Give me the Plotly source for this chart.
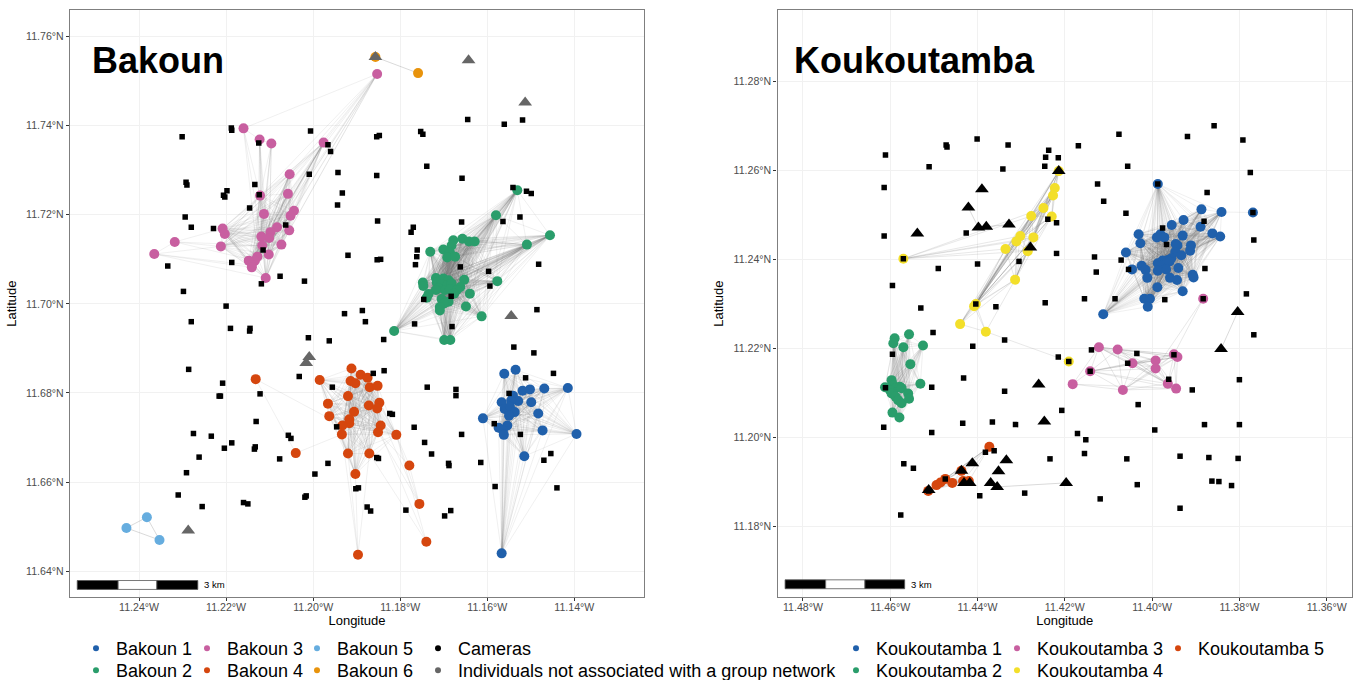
import plotly.graph_objects as go

W, H = 1357, 680
LEGEND_TOP_ROW = 630
LEGEND_BOTTOM_ROW = 652
PLOT_H = LEGEND_TOP_ROW  # height of the plotting region left above the reserved legend strip


def py(pixel):
    return (PLOT_H - pixel) / PLOT_H


# ---------- Tick labels ----------
B_XTICKS = [-11.24, -11.22, -11.20, -11.18, -11.16, -11.14]
B_XLABELS = ["11.24°W", "11.22°W", "11.20°W", "11.18°W", "11.16°W", "11.14°W"]
B_YTICKS = [11.64, 11.66, 11.68, 11.70, 11.72, 11.74, 11.76]
B_YLABELS = ["11.64°N", "11.66°N", "11.68°N", "11.70°N", "11.72°N", "11.74°N", "11.76°N"]
K_XTICKS = [-11.48, -11.46, -11.44, -11.42, -11.40, -11.38, -11.36]
K_XLABELS = ["11.48°W", "11.46°W", "11.44°W", "11.42°W", "11.40°W", "11.38°W", "11.36°W"]
K_YTICKS = [11.18, 11.20, 11.22, 11.24, 11.26, 11.28]
K_YLABELS = ["11.18°N", "11.20°N", "11.22°N", "11.24°N", "11.26°N", "11.28°N"]

# ---------- Bakoun cameras ----------
BC_LON = [-11.2301,-11.2188,-11.2187,-11.2006,-11.2125,-11.1966,-11.1960,-11.2009,-11.1943,-11.2292,-11.2290,-11.2134,
 -11.2198,-11.2206,-11.2203,-11.2124,-11.1933,-11.1944,-11.2146,-11.2294,-11.2280,-11.2229,-11.2063,-11.2115,-11.1920,
 -11.2334,-11.2187,-11.2076,-11.2020,-11.2119,-11.2298,
 -11.1645,-11.1561,-11.1519,-11.1848,-11.1854,-11.1753,-11.1748,-11.1739,-11.1854,-11.1658,-11.1541,-11.1510,-11.1499,
 -11.1525,-11.1564,-11.1659,-11.1852,-11.1770,-11.1775,-11.1761,-11.1762,-11.1765,-11.1845,-11.1853,-11.1482,-11.1662,
 -11.1597,-11.1594,-11.1683,-11.1746,
 -11.2200,-11.2280,-11.2190,-11.2145,-11.2146,-11.2011,-11.1963,-11.1928,-11.2286,-11.2208,-11.2032,-11.1956,-11.2213,
 -11.2216,-11.2122,-11.2131,-11.2275,-11.2234,-11.2187,-11.2204,-11.2133,-11.2135,-11.2262,-11.2057,-11.2051,-11.1946,
 -11.2077,-11.1966,-11.1996,-11.2291,-11.2310,-11.2255,-11.2160,-11.2150,-11.2016,-11.2019,-11.1902,-11.1896,
 -11.1887,-11.1880,-11.1767,-11.1681,-11.1838,-11.1486,-11.1539,-11.1493,-11.1862,-11.1837,-11.1738,-11.1672,-11.1672,
 -11.1512,-11.1448,-11.1550,-11.1824,-11.1818,-11.1768,-11.1659,-11.1584,-11.1524,-11.1744,-11.1728,-11.1689,-11.1688,
 -11.1615,-11.1854,-11.1850,-11.1454,-11.1470,-11.1582,-11.1440,-11.1876,-11.1868,-11.1787,-11.1698,-11.1684]
BC_LAT = [11.7375,11.7395,11.7390,11.7388,11.7361,11.7357,11.7342,11.7291,11.7295,11.7273,11.7267,11.7268,
 11.7254,11.7244,11.7240,11.7245,11.7249,11.7222,11.7215,11.7195,11.7172,11.7169,11.7177,11.7121,11.7109,
 11.7085,11.7093,11.7062,11.7051,11.7045,11.7028,
 11.7414,11.7403,11.7413,11.7378,11.7375,11.7387,11.7381,11.7309,11.7288,11.7282,11.7261,11.7253,11.7248,
 11.7195,11.7185,11.7184,11.7186,11.7172,11.7161,11.7121,11.7106,11.7088,11.7100,11.7099,11.7089,11.7083,
 11.7073,11.7040,11.7017,11.7010,
 11.6995,11.6960,11.6945,11.6945,11.6939,11.6924,11.6917,11.6978,11.6853,11.6822,11.6837,11.6813,11.6793,
 11.6793,11.6798,11.6736,11.6709,11.6703,11.6688,11.6676,11.6679,11.6674,11.6656,11.6705,11.6698,11.6724,
 11.6652,11.6642,11.6618,11.6621,11.6571,11.6545,11.6554,11.6551,11.6569,11.6566,11.6585,11.6587,
 11.6985,11.6960,11.6955,11.6949,11.6920,11.6987,11.6903,11.6890,11.6844,11.6850,11.6813,11.6808,11.6794,
 11.6834,11.6844,11.6799,11.6754,11.6752,11.6723,11.6707,11.6731,11.6707,11.6689,11.6663,11.6642,11.6637,
 11.6644,11.6655,11.6653,11.6664,11.6649,11.6590,11.6587,11.6544,11.6535,11.6537,11.6524,11.6536]

# ---------- Bakoun unassociated individuals ----------
BU_LON = [-11.1857,-11.1643,-11.1513,-11.1545,-11.2009,-11.2016,-11.2287]
BU_LAT = [11.7554,11.7547,11.7452,11.6973,11.6881,11.6867,11.6491]

# ---------- Bakoun groups ----------
B1_LON = [-11.1561,-11.1535,-11.1519,-11.1502,-11.1469,-11.1415,-11.1541,-11.1529,-11.1545,-11.1567,-11.1499,-11.1560,
 -11.1548,-11.1483,-11.1537,-11.1550,-11.1610,-11.1554,-11.1574,-11.1564,-11.1562,-11.1473,-11.1395,-11.1515,-11.1567]
B1_LAT = [11.6843,11.6852,11.6805,11.6808,11.6810,11.6811,11.6794,11.6782,11.6783,11.6779,11.6779,11.6764,
 11.6769,11.6754,11.6757,11.6749,11.6743,11.6727,11.6722,11.6717,11.6706,11.6716,11.6708,11.6658,11.6440]

B2_LON = [-11.1678,-11.1657,-11.1642,-11.1629,-11.1682,-11.1701,-11.1731,-11.1686,-11.1692,-11.1674,-11.1531,-11.1580,
 -11.1456,-11.1509,-11.1577,-11.1718,-11.1748,-11.1747,-11.1701,-11.1689,-11.1653,-11.1716,-11.1705,-11.1693,-11.1682,
 -11.1662,-11.1712,-11.1697,-11.1686,-11.1670,-11.1718,-11.1640,-11.1735,-11.1739,-11.1705,-11.1689,-11.1699,-11.1709,
 -11.1709,-11.1649,-11.1613,-11.1699,-11.1685,-11.1814,-11.1676]
B2_LAT = [11.7143,11.7146,11.7140,11.7140,11.7131,11.7122,11.7117,11.7116,11.7104,11.7106,11.7255,11.7199,
 11.7154,11.7133,11.7051,11.7058,11.7048,11.7040,11.7057,11.7053,11.7054,11.7048,11.7044,11.7041,11.7046,
 11.7038,11.7035,11.7031,11.7033,11.7031,11.7031,11.7023,11.7022,11.7014,11.7011,11.7005,11.7001,11.6993,
 11.6985,11.6994,11.6972,11.6919,11.6919,11.6939,11.7023]

B3_LON = [-11.2160,-11.2123,-11.2096,-11.1976,-11.2054,-11.2058,-11.2122,-11.2113,-11.2044,-11.2052,-11.2083,-11.2098,
 -11.2101,-11.2119,-11.2055,-11.2073,-11.2117,-11.2208,-11.2203,-11.2212,-11.2318,-11.2365,-11.2102,-11.2128,-11.2134,
 -11.2148,-11.2141,-11.2141,-11.2109,-11.1853]
B3_LAT = [11.7394,11.7369,11.7360,11.7362,11.7291,11.7247,11.7243,11.7202,11.7209,11.7198,11.7172,11.7161,
 11.7148,11.7151,11.7165,11.7133,11.7131,11.7169,11.7157,11.7129,11.7139,11.7112,11.7111,11.7106,11.7097,
 11.7097,11.7087,11.7082,11.7058,11.7516]

B4_LON = [-11.2132,-11.1985,-11.1912,-11.1891,-11.1914,-11.1903,-11.1920,-11.1966,-11.1963,-11.1906,-11.1917,-11.1917,
 -11.1933,-11.1934,-11.1920,-11.2040,-11.1903,-11.1897,-11.1875,-11.1870,-11.1852,-11.1872,-11.1848,-11.1853,-11.1845,
 -11.1851,-11.1809,-11.1871,-11.1779,-11.1756,-11.1740]
B4_LAT = [11.6831,11.6829,11.6855,11.6841,11.6827,11.6822,11.6793,11.6776,11.6748,11.6758,11.6741,11.6732,
 11.6727,11.6707,11.6664,11.6665,11.6618,11.6437,11.6834,11.6813,11.6816,11.6772,11.6778,11.6765,11.6727,
 11.6712,11.6706,11.6664,11.6637,11.6551,11.6466]

B5_LON = [-11.2429,-11.2382,-11.2353]
B5_LAT = [11.6497,11.6521,11.6470]
B6_LON = [-11.1857,-11.1759]
B6_LAT = [11.7554,11.7518]

# ---------- Koukoutamba cameras ----------
KC_LON = [-11.4611,-11.4472,-11.4470,-11.4401,-11.4330,-11.4237,-11.4244,-11.4215,-11.4246,-11.4511,-11.4342,-11.4614,
 -11.4614,-11.4426,-11.4239,-11.4219,-11.4219,-11.4570,-11.4400,-11.4490,-11.4305,-11.4595,-11.4404,-11.4358,-11.4245,
 -11.4530,-11.4502,-11.4411,-11.4338,-11.4595,-11.4215,
 -11.4169,-11.4076,-11.4056,-11.4125,-11.4111,-11.4060,-11.3987,-11.3919,-11.3858,-11.3792,-11.3775,-11.3874,-11.3881,
 -11.3769,-11.3976,-11.3767,-11.3967,-11.4132,-11.4071,-11.4054,-11.4128,-11.3879,-11.4155,-11.4085,-11.3971,-11.3883,
 -11.3784,-11.3767,-11.4139,-11.4035,-11.3950,
 -11.4191,-11.4056,-11.4142,-11.3962,-11.3800,-11.3908,-11.4032,-11.4207,-11.3994,-11.3880,-11.3800,-11.4171,-11.4152,
 -11.4155,-11.4058,-11.3936,-11.3870,-11.3803,-11.3863,-11.3847,-11.3818,-11.4034,-11.4119,-11.3936,
 -11.4432,-11.4505,-11.4338,-11.4611,-11.4434,-11.4366,-11.4313,-11.4615,-11.4505,-11.4569,-11.4547,-11.4382,-11.4362,
 -11.4234,-11.4474,-11.4512,-11.4395,-11.4292,-11.4576]
KC_LAT = [11.2634,11.2657,11.2652,11.2670,11.2657,11.2645,11.2629,11.2628,11.2609,11.2608,11.2603,11.2561,
 11.2452,11.2459,11.2490,11.2482,11.2413,11.2401,11.2389,11.2379,11.2395,11.2341,11.2299,11.2293,11.2302,
 11.2290,11.2235,11.2204,11.2218,11.2186,11.2180,
 11.2655,11.2681,11.2609,11.2569,11.2530,11.2503,11.2569,11.2676,11.2700,11.2668,11.2595,11.2550,11.2485,
 11.2505,11.2470,11.2443,11.2433,11.2405,11.2398,11.2377,11.2371,11.2379,11.2311,11.2311,11.2309,11.2311,
 11.2322,11.2230,11.2196,11.2188,11.2185,
 11.2170,11.2166,11.2148,11.2130,11.2129,11.2106,11.2073,11.2060,11.2016,11.2028,11.2028,11.2008,11.1994,
 11.1963,11.1951,11.1957,11.1954,11.1952,11.1901,11.1900,11.1891,11.1893,11.1861,11.1840,
 11.2133,11.2112,11.2103,11.2111,11.2031,11.2034,11.2028,11.2022,11.2010,11.1940,11.1930,11.1966,11.1969,
 11.1951,11.1906,11.1879,11.1868,11.1874,11.1825]

# ---------- Koukoutamba unassociated individuals ----------
KU_LON = [-11.4390,-11.4421,-11.4398,-11.4380,-11.4328,-11.4538,-11.4279,-11.4214,-11.3804,-11.3842,-11.4260,-11.4247,
 -11.4412,-11.4334,-11.4352,-11.4437,-11.4370,-11.4355,-11.4431,-11.4418,-11.4197,-11.4512]
KU_LAT = [11.2557,11.2516,11.2471,11.2473,11.2478,11.2458,11.2426,11.2598,11.2281,11.2198,11.2118,11.2035,
 11.1941,11.1948,11.1923,11.1924,11.1897,11.1888,11.1897,11.1897,11.1897,11.1881]
KU_LINKS = [(1, 2), (2, 3), (3, 4), (8, 9), (17, 20)]

# ---------- Koukoutamba groups ----------
K1_LON = [-11.3987,-11.3887,-11.3841,-11.3769,-11.3928,-11.3955,-11.3889,-11.3930,-11.3862,-11.3844,-11.4031,-11.3981,
 -11.3989,-11.3972,-11.4027,-11.3946,-11.3942,-11.3911,-11.3913,-11.3947,-11.3933,-11.4060,-11.3956,-11.3964,-11.3976,
 -11.3987,-11.3979,-11.3968,-11.3960,-11.3968,-11.3987,-11.4024,-11.4046,-11.4015,-11.3940,-11.4011,-11.3959,-11.3943,
 -11.3907,-11.3905,-11.3988,-11.3930,-11.4018,-11.4005,-11.4010,-11.4112]
K1_LAT = [11.2569,11.2512,11.2506,11.2505,11.2488,11.2477,11.2473,11.2453,11.2458,11.2451,11.2456,11.2456,
 11.2449,11.2449,11.2436,11.2434,11.2431,11.2431,11.2419,11.2416,11.2409,11.2415,11.2402,11.2398,11.2397,
 11.2391,11.2387,11.2391,11.2395,11.2377,11.2374,11.2385,11.2377,11.2376,11.2380,11.2358,11.2358,11.2353,
 11.2365,11.2359,11.2337,11.2328,11.2311,11.2311,11.2293,11.2276]

K2_LON = [-11.4557,-11.4590,-11.4593,-11.4570,-11.4525,-11.4554,-11.4531,-11.4597,-11.4612,-11.4593,-11.4589,-11.4601,
 -11.4578,-11.4574,-11.4597,-11.4588,-11.4582,-11.4574,-11.4559,-11.4557,-11.4595,-11.4579]
K2_LAT = [11.2231,11.2222,11.2211,11.2202,11.2206,11.2164,11.2120,11.2128,11.2112,11.2117,11.2110,11.2106,
 11.2113,11.2110,11.2098,11.2091,11.2083,11.2076,11.2098,11.2086,11.2055,11.2044]

K3_LON = [-11.4122,-11.4079,-11.4142,-11.4045,-11.3992,-11.3992,-11.3950,-11.3942,-11.3964,-11.3945,-11.4182,-11.4067,-11.3883]
K3_LAT = [11.2202,11.2197,11.2148,11.2166,11.2172,11.2154,11.2186,11.2180,11.2120,11.2109,11.2119,11.2106,11.2311]

K4_LON = [-11.4214,-11.4223,-11.4227,-11.4249,-11.4277,-11.4230,-11.4302,-11.4272,-11.4311,-11.4336,-11.4285,-11.4314,
 -11.4408,-11.4404,-11.4440,-11.4381,-11.4570,-11.4191]
K4_LAT = [11.2598,11.2560,11.2543,11.2515,11.2497,11.2496,11.2452,11.2449,11.2440,11.2423,11.2418,11.2354,
 11.2294,11.2299,11.2254,11.2237,11.2401,11.2170]

K5_LON = [-11.4373,-11.4437,-11.4474,-11.4485,-11.4494,-11.4458,-11.4513,-11.4433,-11.4420]
K5_LAT = [11.1978,11.1924,11.1906,11.1898,11.1892,11.1897,11.1879,11.1901,11.1901]

# Group members whose network ties are few: member index -> tied member indexes
B3_FEW = {21:[20,19,26,28,27], 20:[21,17,19,16,24], 0:[29,1,6,23,16],
          1:[0,2,6,7,13,16,22,28,23], 2:[1,7,13,16,12,22,6],
          29:[3,4,5,8,9,10,14,15,12,6,7,0,11]}
B4_FEW = {0:[15,12], 15:[0,13], 30:[26,27,21], 29:[26,28,25,23], 28:[26,29,25], 17:[14,27,16,13]}
K1_FEW = {3:[2]}
K3_FEW = {12:[6,5], 10:[2,0,11,9]}
K4_FEW = {17:[15], 15:[17,14,12,13,11], 16:[3,4,6,7,8,9,10], 14:[15,12,13,11,8,6,10,9,4]}

BLUE, GREEN, PINK, RED, SKY, ORANGE, YELLOW = "#2060AB", "#2A9D6B", "#C85FA0", "#D5460E", "#66ADDF", "#E8930C", "#F3DF2A"
FONT = "Liberation Sans"

B_GROUPS = [("Bakoun 1", B1_LON, B1_LAT, BLUE, {}), ("Bakoun 2", B2_LON, B2_LAT, GREEN, {}),
            ("Bakoun 3", B3_LON, B3_LAT, PINK, B3_FEW), ("Bakoun 4", B4_LON, B4_LAT, RED, B4_FEW),
            ("Bakoun 5", B5_LON, B5_LAT, SKY, {}), ("Bakoun 6", B6_LON, B6_LAT, ORANGE, {})]
K_GROUPS = [("Koukoutamba 1", K1_LON, K1_LAT, BLUE, K1_FEW), ("Koukoutamba 2", K2_LON, K2_LAT, GREEN, {}),
            ("Koukoutamba 3", K3_LON, K3_LAT, PINK, K3_FEW), ("Koukoutamba 4", K4_LON, K4_LAT, YELLOW, K4_FEW),
            ("Koukoutamba 5", K5_LON, K5_LAT, RED, {})]

fig = go.Figure()


def add_edges(lon, lat, few, xa, ya):
    n = len(lon)
    alpha = 0.35 if n <= 5 else (0.22 if n <= 18 else 0.14)
    for i in range(n):
        xs, ys = [], []
        for j in range(i + 1, n):
            if i in few or j in few:
                if not (j in few.get(i, []) or i in few.get(j, [])):
                    continue
            xs += [lon[i], lon[j], None]
            ys += [lat[i], lat[j], None]
        if xs:
            fig.add_trace(go.Scatter(x=xs, y=ys, mode="lines", xaxis=xa, yaxis=ya, showlegend=False, hoverinfo="skip",
                                     line=dict(color=f"rgba(120,120,120,{alpha})", width=0.8)))


def add_panel(groups, cam_lon, cam_lat, un_lon, un_lat, un_color, links, xa, ya):
    for name, lon, lat, color, few in groups:
        add_edges(lon, lat, few, xa, ya)
    for a, b in links:
        fig.add_trace(go.Scatter(x=[un_lon[a], un_lon[b]], y=[un_lat[a], un_lat[b]], mode="lines", xaxis=xa, yaxis=ya,
                                 showlegend=False, hoverinfo="skip", line=dict(color="rgba(120,120,120,0.35)", width=0.8)))
    for name, lon, lat, color, few in groups:
        fig.add_trace(go.Scatter(x=lon, y=lat, mode="markers", xaxis=xa, yaxis=ya, name=name, showlegend=False,
                                 marker=dict(color=color, size=10, line=dict(width=0))))
    fig.add_trace(go.Scatter(x=un_lon, y=un_lat, mode="markers", xaxis=xa, yaxis=ya,
                             name="Individuals not associated with a group network", showlegend=False,
                             marker=dict(color=un_color, size=12, symbol="triangle-up", line=dict(width=0))))
    fig.add_trace(go.Scatter(x=cam_lon, y=cam_lat, mode="markers", xaxis=xa, yaxis=ya, name="Cameras", showlegend=False,
                             marker=dict(color="black", size=5.5, symbol="square", line=dict(width=0))))


add_panel(B_GROUPS, BC_LON, BC_LAT, BU_LON, BU_LAT, "#666666", [], "x", "y")
add_panel(K_GROUPS, KC_LON, KC_LAT, KU_LON, KU_LAT, "#000000", KU_LINKS, "x2", "y2")

# ---------- Legends (native, one per entry so each key sits on the reference's grid) ----------
LEGEND_ENTRIES = [
    ("Bakoun 1", BLUE, 76, 0), ("Bakoun 2", GREEN, 76, 1),
    ("Bakoun 3", PINK, 187, 0), ("Bakoun 4", RED, 187, 1),
    ("Bakoun 5", SKY, 297, 0), ("Bakoun 6", ORANGE, 297, 1),
    ("Cameras", "black", 418, 0), ("Individuals not associated with a group network", "#666666", 418, 1),
    ("Koukoutamba 1", BLUE, 836, 0), ("Koukoutamba 2", GREEN, 836, 1),
    ("Koukoutamba 3", PINK, 997, 0), ("Koukoutamba 4", YELLOW, 997, 1),
    ("Koukoutamba 5", RED, 1158, 0),
]
legend_layout = {}
for idx, (label, color, left, row) in enumerate(LEGEND_ENTRIES):
    key = "legend" if idx == 0 else f"legend{idx + 1}"
    fig.add_trace(go.Scatter(x=[None], y=[None], mode="markers", name=label, legend=key, showlegend=True,
                             marker=dict(color=color, size=6)))
    top = LEGEND_BOTTOM_ROW if row else LEGEND_TOP_ROW
    legend_layout[key] = dict(x=left / W, xref="paper", y=1 - top / H, yref="container", xanchor="left", yanchor="top",
                              orientation="v", bgcolor="rgba(0,0,0,0)", borderwidth=0,
                              font=dict(family=FONT, size=18, color="black"))

# ---------- Scale bars ----------
BAR_B = dict(lons=[-11.2542, -11.2448, -11.2359, -11.2265], lats=[11.6359, 11.6379], xref="x", yref="y")
BAR_K = dict(lons=[-11.4841, -11.4748, -11.4658, -11.4567], lats=[11.1659, 11.1679], xref="x2", yref="y2")
shapes = []
for bar in (BAR_B, BAR_K):
    fills = ["black", "white", "black"]
    for k in range(3):
        shapes.append(dict(type="rect", xref=bar["xref"], yref=bar["yref"], x0=bar["lons"][k], x1=bar["lons"][k + 1],
                           y0=bar["lats"][0], y1=bar["lats"][1], fillcolor=fills[k],
                           line=dict(color="#555555", width=0.8)))

annotations = [
    dict(text="<b>Bakoun</b>", xref="paper", yref="paper", x=90 / W, y=py(61), xanchor="left", yanchor="middle",
         showarrow=False, font=dict(family=FONT, size=36, color="black")),
    dict(text="<b>Koukoutamba</b>", xref="paper", yref="paper", x=792 / W, y=py(61), xanchor="left",
         yanchor="middle", showarrow=False, font=dict(family=FONT, size=36, color="black")),
    dict(text="3 km", xref="paper", yref="paper", x=202 / W, y=py(584.5), xanchor="left", yanchor="middle",
         showarrow=False, font=dict(family=FONT, size=9.5, color="black")),
    dict(text="3 km", xref="paper", yref="paper", x=909 / W, y=py(584.5), xanchor="left", yanchor="middle",
         showarrow=False, font=dict(family=FONT, size=9.5, color="black")),
]


def axis(domain, rng, vals, labels, title, anchor, standoff, label_shift):
    return dict(domain=domain, range=rng, tickmode="array", tickvals=vals, ticktext=labels, anchor=anchor,
                title=dict(text=title, font=dict(family=FONT, size=13, color="black"), standoff=standoff),
                tickfont=dict(family=FONT, size=10.6, color="#4d4d4d"), ticks="outside", ticklen=3, tickwidth=1,
                ticklabelstandoff=label_shift,
                tickcolor="#333333", showgrid=True, gridcolor="#f1f1f1", gridwidth=1, zeroline=False,
                showline=True, linecolor="#7f7f7f", linewidth=1.4, mirror=True, automargin=False)


ydomain = [py(597), py(10.3)]
fig.update_layout(
    width=W, height=H, autosize=False, margin=dict(l=0, r=0, t=0, b=0), paper_bgcolor="white", plot_bgcolor="white",
    font=dict(family=FONT), shapes=shapes, annotations=annotations, hovermode="closest",
    xaxis=axis([70 / W, 644 / W], [-11.25586, -11.124], B_XTICKS, B_XLABELS, "Longitude", "y", 2, -3),
    yaxis=axis(ydomain, [11.6342, 11.7659], B_YTICKS, B_YLABELS, "Latitude", "x", 6, 0),
    xaxis2=axis([777.5 / W, 1352 / W], [-11.48584, -11.3542], K_XTICKS, K_XLABELS, "Longitude", "y2", 2, -3),
    yaxis2=axis(ydomain, [11.16404, 11.29596], K_YTICKS, K_YLABELS, "Latitude", "x2", 6, 0),
    **legend_layout,
)

fig.write_html("out.html", config={"displayModeBar": False}, post_script="document.body.style.margin='0';")
